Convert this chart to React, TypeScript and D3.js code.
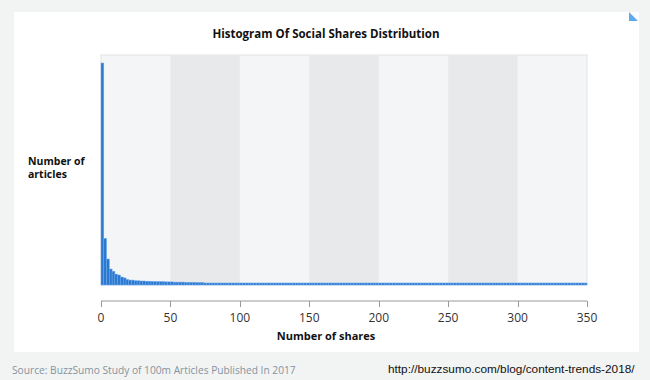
import React from "react";
import * as d3 from "d3";

const title = "Histogram Of Social Shares Distribution";
const yLabelLines = ["Number of", "articles"];
const xLabel = "Number of shares";
const sourceText = "Source: BuzzSumo Study of 100m Articles Published In 2017";
const urlText = "http://buzzsumo.com/blog/content-trends-2018/";

const xTicks = [0, 50, 100, 150, 200, 250, 300, 350];
const bandStarts = [0, 50, 100, 150, 200, 250, 300];
const binWidth = 2;

// relative article counts per 2-share bin (0..350 shares)
const headCounts = [
  100, 21, 11.7, 7.2, 6.2, 4.9, 4.5, 3.6, 3.2, 2.5,
  2.2, 2.2, 1.9, 1.9, 1.8, 1.8, 1.7, 1.7, 1.6, 1.6,
  1.5, 1.5, 1.5, 1.4, 1.4, 1.4, 1.3, 1.3, 1.3, 1.3,
  1.2, 1.2, 1.2, 1.2, 1.1, 1.1, 1.1,
];
const tailCounts = [
  0.9, 0.9, 0.9, 0.9, 0.9, 0.9, 0.9, 0.9, 0.9, 0.9,
  0.9, 0.9, 0.9, 0.9, 0.9, 0.9, 0.9, 0.9, 0.9, 0.9,
  0.9, 0.9, 0.9, 0.9, 0.9, 0.9, 0.9, 0.9, 0.9, 0.9,
  0.9, 0.9, 0.9, 0.9, 0.9, 0.9, 0.9, 0.9, 0.9, 0.9,
  0.9, 0.9, 0.9, 0.9, 0.9, 0.9, 0.9, 0.9, 0.9, 0.9,
  0.9, 0.9, 0.9, 0.9, 0.9, 0.9, 0.9, 0.9, 0.9, 0.9,
  0.9, 0.9, 0.9, 0.9, 0.9, 0.9, 0.9, 0.9, 0.9, 0.9,
  0.9, 0.9, 0.9, 0.9, 0.9, 0.9, 0.9, 0.9, 0.9, 0.9,
  0.9, 0.9, 0.9, 0.9, 0.9, 0.9, 0.9, 0.9, 0.9, 0.9,
  0.9, 0.9, 0.9, 0.9, 0.9, 0.9, 0.9, 0.9, 0.9, 0.9,
  0.9, 0.9, 0.9, 0.9, 0.9, 0.9, 0.9, 0.9, 0.9, 0.9,
  0.9, 0.9, 0.9, 0.9, 0.9, 0.9, 0.9, 0.9, 0.9, 0.9,
  0.9, 0.9, 0.9, 0.9, 0.9, 0.9, 0.9, 0.9, 0.9, 0.9,
  0.9, 0.9, 0.9, 0.9, 0.9, 0.9, 0.9, 0.9,
];
const counts = [...headCounts, ...tailCounts];

const W = 650;
const H = 380;
const plot = { left: 101, right: 587, top: 55, bottom: 285 };

export default function App() {
  const x = d3.scaleLinear().domain([0, 350]).range([plot.left, plot.right]);
  const y = d3.scaleLinear().domain([0, 100]).range([plot.bottom, 63]);
  const font = "'Open Sans', 'Noto Sans', sans-serif";
  const axisY = 301;

  return (
    <svg
      width={W}
      height={H}
      style={{ position: "absolute", left: 0, top: 0, display: "block" }}
    >
      <rect x={0} y={0} width={W} height={H} fill="#f2f3f3" />
      <rect x={14} y={12} width={625} height={340} fill="#ffffff" />
      <path d="M629,12 L629,21 L638,21 Z" fill="#5eaaee" />

      <text
        x={326}
        y={38}
        textAnchor="middle"
        fontFamily={font}
        fontWeight={700}
        fontSize={11.5}
        fill="#111"
      >
        {title}
      </text>

      {/* plot background bands */}
      <rect
        x={plot.left}
        y={plot.top}
        width={plot.right - plot.left}
        height={plot.bottom - plot.top}
        fill="#f4f5f6"
        stroke="#e3e4e5"
        strokeWidth={1}
      />
      {bandStarts.map((b, i) =>
        i % 2 === 1 ? (
          <rect
            key={b}
            x={x(b)}
            y={plot.top + 0.5}
            width={x(b + 50) - x(b)}
            height={plot.bottom - plot.top - 1}
            fill="#e8e9ea"
          />
        ) : null
      )}

      {/* bars */}
      {counts.map((c, i) => {
        const x0 = x(i * binWidth);
        const x1 = x((i + 1) * binWidth);
        return (
          <rect
            key={i}
            x={x0}
            y={y(c)}
            width={x1 - x0}
            height={plot.bottom - y(c)}
            fill="#2c78cf"
            stroke="#6aa8ec"
            strokeWidth={0.5}
          />
        );
      })}

      {/* x axis */}
      <line
        x1={plot.left}
        x2={plot.right}
        y1={axisY}
        y2={axisY}
        stroke="#999"
        strokeWidth={1}
      />
      {xTicks.map((t) => (
        <g key={t}>
          <line
            x1={Math.round(x(t)) + 0.5}
            x2={Math.round(x(t)) + 0.5}
            y1={axisY}
            y2={axisY + 6}
            stroke="#999"
            strokeWidth={1}
          />
          <text
            x={x(t)}
            y={322}
            textAnchor="middle"
            fontFamily={font}
            fontSize={12}
            fill="#333"
          >
            {t}
          </text>
        </g>
      ))}

      <text
        x={326}
        y={340}
        textAnchor="middle"
        fontFamily={font}
        fontWeight={700}
        fontSize={11}
        fill="#111"
      >
        {xLabel}
      </text>

      {yLabelLines.map((l, i) => (
        <text
          key={l}
          x={28}
          y={165 + i * 12.5}
          fontFamily={font}
          fontWeight={700}
          fontSize={10.5}
          fill="#111"
        >
          {l}
        </text>
      ))}

      <text x={12} y={374} fontFamily={font} fontSize={10.2} fill="#8494a0">
        {sourceText}
      </text>
      <text
        x={388}
        y={373}
        fontFamily="'Liberation Sans', Arial, sans-serif"
        fontSize={11.8}
        fill="#111"
      >
        {urlText}
      </text>
    </svg>
  );
}
